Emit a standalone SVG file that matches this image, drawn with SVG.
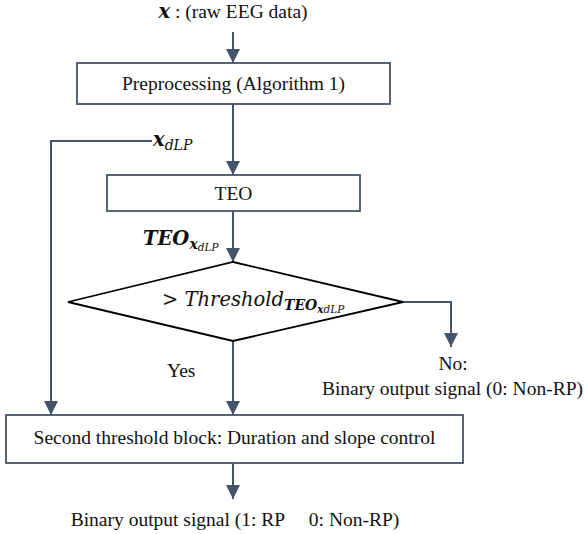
<svg xmlns="http://www.w3.org/2000/svg" width="585" height="534" viewBox="0 0 585 534">
<style>
text{font-family:"Liberation Serif","Times New Roman",serif;font-size:19.5px;fill:#111}
.box{fill:#fff;stroke:#44546A;stroke-width:1.8}
.dia{fill:#fff;stroke:#000;stroke-width:1.8}
.con{fill:none;stroke:#44546A;stroke-width:2}
.m{font-family:"DejaVu Serif","Liberation Serif",serif;font-style:italic}
.b{font-weight:bold}
.s{font-size:14px}
.ss{font-size:10.5px}
</style>
<defs>
<marker id="ah" markerUnits="userSpaceOnUse" markerWidth="14" markerHeight="14" refX="14" refY="7" orient="auto">
<path d="M0,0 L14,7 L0,14 z" fill="#44546A"/>
</marker>
</defs>
<g id="connectors">
<line class="con" x1="233" y1="32" x2="233" y2="63" marker-end="url(#ah)"/>
<line class="con" x1="233" y1="104" x2="233" y2="175" marker-end="url(#ah)"/>
<path class="con" d="M152,141 H51 V415" marker-end="url(#ah)"/>
<line class="con" x1="233" y1="211" x2="233" y2="262" marker-end="url(#ah)"/>
<path class="con" d="M403,302 H451 V347" marker-end="url(#ah)"/>
<line class="con" x1="233" y1="341" x2="233" y2="415" marker-end="url(#ah)"/>
<line class="con" x1="233" y1="463" x2="233" y2="499" marker-end="url(#ah)"/>
</g>
<g id="input">
<text x="233" y="18" text-anchor="middle"><tspan class="m b">x</tspan> : (raw EEG data)</text>
</g>
<g id="preprocessing">
<rect class="box" x="77" y="63" width="313" height="41"/>
<text x="233.5" y="90" text-anchor="middle">Preprocessing (Algorithm 1)</text>
</g>
<g id="xdlp-label">
<text x="153" y="146"><tspan class="m b">x</tspan><tspan class="m s" dy="4">dLP</tspan></text>
</g>
<g id="teo">
<rect class="box" x="107" y="175" width="253" height="36"/>
<text x="233.5" y="200" text-anchor="middle">TEO</text>
</g>
<g id="teo-label">
<text x="143" y="245"><tspan class="m b">TEO</tspan><tspan class="m b s" dy="4">x</tspan><tspan class="m ss" dy="2">dLP</tspan></text>
</g>
<g id="threshold">
<polygon class="dia" points="233,262 403,302 233,341 68,302"/>
<text x="162" y="306"><tspan class="m">&gt; Threshold</tspan><tspan class="m b s" dy="4">TEO</tspan><tspan class="m b ss" dy="3">x</tspan><tspan class="m ss">dLP</tspan></text>
</g>
<g id="no-output">
<text x="453" y="370" text-anchor="middle">No:</text>
<text x="583" y="395" text-anchor="end">Binary output signal (0: Non-RP)</text>
</g>
<g id="yes-label">
<text x="167" y="377">Yes</text>
</g>
<g id="second-threshold">
<rect class="box" x="6" y="415" width="457" height="48"/>
<text x="234.5" y="444" text-anchor="middle">Second threshold block: Duration and slope control</text>
</g>
<g id="output">
<text x="235" y="526" text-anchor="middle" xml:space="preserve">Binary output signal (1: RP     0: Non-RP)</text>
</g>
</svg>
